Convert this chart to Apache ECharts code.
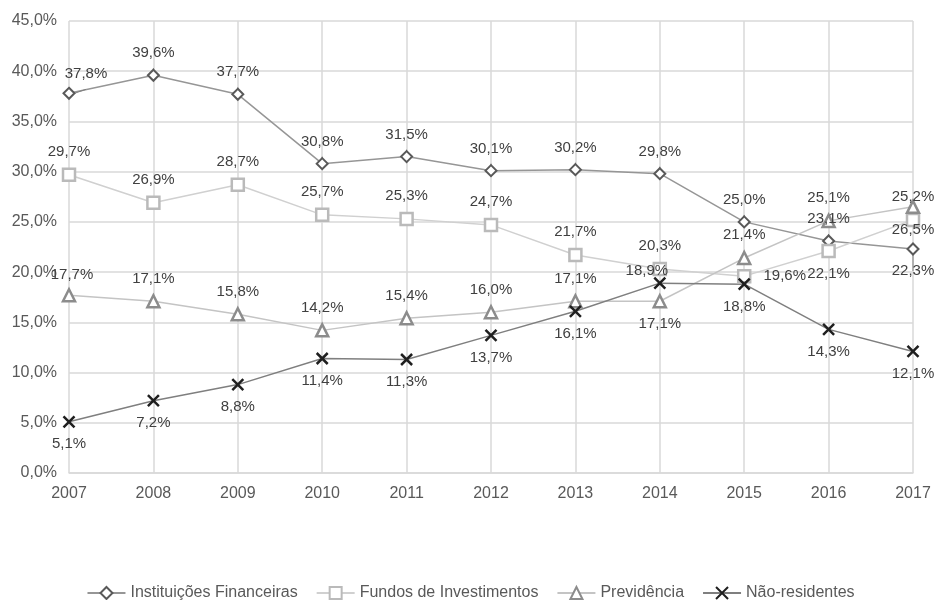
<!DOCTYPE html>
<html>
<head>
    <meta charset="utf-8">
    <title>Participação por investidor</title>
    <script src="https://cdn.jsdelivr.net/npm/echarts@6/dist/echarts.min.js"></script>
    <style>
        body { margin: 0; background: #fff; }
    </style>
</head>
<body>

<!-- chart container -->
<div id="main" style="width: 941px;height:600px;"></div>

<script type="text/javascript">

var years = ['2007', '2008', '2009', '2010', '2011', '2012', '2013', '2014', '2015', '2016', '2017'];
var yTicks = [0, 5, 10, 15, 20, 25, 30, 35, 40, 45];

var instituicoes = [37.8, 39.6, 37.7, 30.8, 31.5, 30.1, 30.2, 29.8, 25.0, 23.1, 22.3];
var fundos = [29.7, 26.9, 28.7, 25.7, 25.3, 24.7, 21.7, 20.3, 19.6, 22.1, 25.2];
var previdencia = [17.7, 17.1, 15.8, 14.2, 15.4, 16.0, 17.1, 17.1, 21.4, 25.1, 26.5];
var naoResidentes = [5.1, 7.2, 8.8, 11.4, 11.3, 13.7, 16.1, 18.9, 18.8, 14.3, 12.1];

var names = ['Instituições Financeiras', 'Fundos de Investimentos', 'Previdência', 'Não-residentes'];

function pct(v) {
    return v.toFixed(1).replace('.', ',') + '%';
}

// label placement per point (like the data labels moved by hand in the original)
function withLabels(values, overrides) {
    return values.map(function (v, i) {
        var item = { value: v };
        if (overrides[i]) {
            item.label = overrides[i];
        }
        return item;
    });
}

var labelBase = {
    show: true,
    color: '#404040',
    fontSize: 15,
    fontFamily: 'Liberation Sans, Arial, sans-serif',
    distance: 8,
    formatter: function (p) { return pct(p.value); }
};

var myChart = echarts.init(document.getElementById('main'));

myChart.setOption({
    animation: false,
    textStyle: { fontFamily: 'Liberation Sans, Arial, sans-serif' },
    grid: {
        left: 69,
        right: 28,
        top: 21,
        bottom: 127
    },
    legend: {
        data: names,
        left: 'center',
        top: 580,
        itemWidth: 38,
        itemHeight: 15,
        itemGap: 18,
        textStyle: { color: '#595959', fontSize: 16 }
    },
    xAxis: {
        type: 'category',
        data: years,
        boundaryGap: false,
        axisLine: { lineStyle: { color: '#d9d9d9', width: 1.5 } },
        axisTick: { show: false },
        axisLabel: { color: '#595959', fontSize: 16, margin: 13 },
        splitLine: { show: true, lineStyle: { color: '#d9d9d9', width: 1.5 } }
    },
    yAxis: {
        type: 'value',
        min: yTicks[0],
        max: yTicks[yTicks.length - 1],
        interval: 5,
        axisLine: { show: false },
        axisTick: { show: false },
        axisLabel: {
            color: '#595959',
            fontSize: 16,
            margin: 12,
            formatter: function (v) { return pct(v); }
        },
        splitLine: { lineStyle: { color: '#d9d9d9', width: 1.5 } }
    },
    series: [
        {
            name: names[0],
            type: 'line',
            symbol: 'diamond',
            symbolSize: 11,
            lineStyle: { color: '#969696', width: 1.5 },
            itemStyle: { color: '#ffffff', borderColor: '#595959', borderWidth: 2 },
            label: Object.assign({}, labelBase, { position: 'top' }),
            labelLine: { show: true, lineStyle: { color: '#808080', width: 1 } },
            data: withLabels(instituicoes, {
                0: { position: 'top', offset: [17, 3] },
                10: { position: 'bottom' }
            })
        },
        {
            name: names[1],
            type: 'line',
            symbol: 'rect',
            symbolSize: 12,
            lineStyle: { color: '#d0d0d0', width: 1.5 },
            itemStyle: { color: '#ffffff', borderColor: '#bababa', borderWidth: 2.5 },
            label: Object.assign({}, labelBase, { position: 'top' }),
            data: withLabels(fundos, {
                8: { position: 'right', distance: 12 },
                9: { position: 'bottom' }
            })
        },
        {
            name: names[2],
            type: 'line',
            symbol: 'triangle',
            symbolSize: 12,
            lineStyle: { color: '#c4c4c4', width: 1.5 },
            itemStyle: { color: '#ffffff', borderColor: '#8c8c8c', borderWidth: 2.5 },
            label: Object.assign({}, labelBase, { position: 'top' }),
            data: withLabels(previdencia, {
                0: { position: 'top', offset: [3, 2] },
                7: { position: 'bottom' },
                10: { position: 'bottom' }
            })
        },
        {
            name: names[3],
            type: 'line',
            symbol: 'path://M0,0L10,10M10,0L0,10',
            symbolSize: 11,
            lineStyle: { color: '#7f7f7f', width: 1.5 },
            itemStyle: { color: '#1f1f1f', borderColor: '#1f1f1f', borderWidth: 2.5 },
            label: Object.assign({}, labelBase, { position: 'bottom' }),
            data: withLabels(naoResidentes, {
                7: { position: 'top', offset: [-13, 10] }
            })
        }
    ]
});
</script>

</body>
</html>
